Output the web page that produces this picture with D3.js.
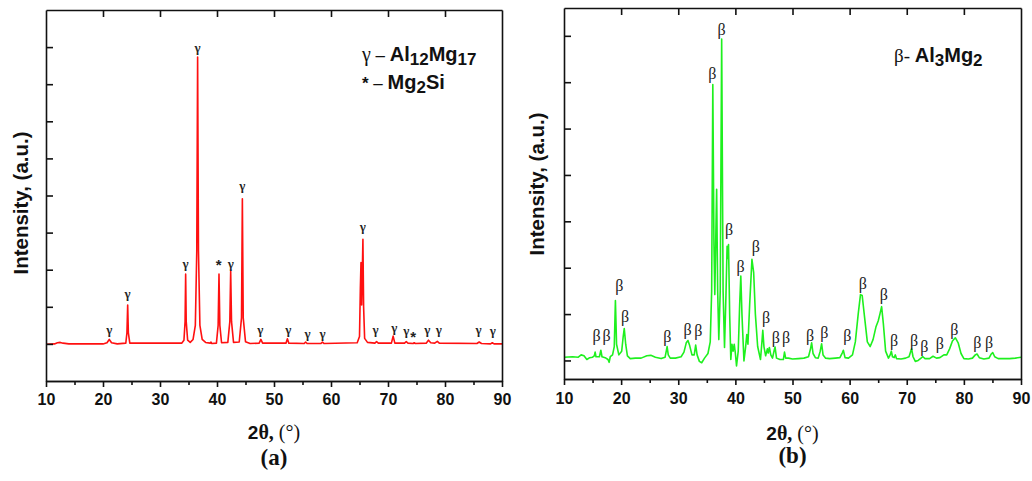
<!DOCTYPE html>
<html>
<head>
<meta charset="utf-8">
<script src="https://cdn.jsdelivr.net/npm/d3@7"></script>
<style>
  body { margin: 0; background: #fff; }
  svg { display: block; }
</style>
</head>
<body>
<svg id="chart" width="1032" height="481"></svg>
<script>
// (a) Al12Mg17 pattern, [2theta, intensity a.u.]
var patternA = [
  [10,0.99],[11.5,1.0],[12.0,1.03],[12.5,1.04],[13.0,1.02],[14,1.0],[20.0,1.0],[20.7,1.03],[21.1,1.12],[21.5,1.03],
  [22.5,1.0],[24.0,1.02],[24.2,1.3],[24.33,2.05],[24.45,1.3],[24.7,1.02],[33.8,1.02],[34.2,1.1],[34.4,1.6],[34.5,2.88],
  [34.6,1.6],[34.85,1.1],[35.3,1.04],[35.8,1.12],[36.2,1.5],[36.45,3.5],[36.6,8.73],[36.75,3.5],[37.0,1.5],[37.4,1.12],
  [38.0,1.04],[38.8,1.02],[38.95,1.05],[39.1,1.01],[39.9,1.02],[40.2,1.5],[40.35,2.88],[40.5,1.5],[40.8,1.03],[41.9,1.04],
  [42.25,1.6],[42.4,2.96],[42.55,1.6],[42.9,1.04],[43.9,1.05],[44.3,1.7],[44.45,4.91],[44.6,1.7],[45.0,1.06],[45.8,1.01],
  [47.4,1.02],[47.7,1.12],[48.0,1.02],[52.1,1.02],[52.35,1.14],[52.6,1.02],[55.3,1.01],[55.55,1.05],[55.8,1.01],[58.2,1.01],
  [58.5,1.05],[58.8,1.01],[64.6,1.03],[65.0,1.2],[65.15,2.5],[65.26,3.19],[65.38,2.05],[65.5,3.0],[65.6,3.82],[65.72,2.0],
  [65.9,1.15],[66.4,1.04],[67.7,1.02],[68.0,1.06],[68.3,1.02],[70.6,1.02],[70.9,1.21],[71.2,1.02],[72.9,1.02],[73.2,1.06],
  [73.5,1.02],[74.4,1.01],[74.6,1.03],[74.8,1.01],[76.7,1.02],[77.1,1.1],[77.5,1.03],[78.2,1.02],[78.65,1.07],[79.0,1.02],
  [85.6,1.01],[86.0,1.05],[86.4,1.01],[88.0,1.0],[88.3,1.03],[88.6,1.0],[90,1.0]
];

// (b) Al3Mg2 pattern, [2theta, intensity a.u.]
var patternB = [
  [10,0.07],[11.5,0.08],[12.5,0.07],[13.0,0.12],[13.5,0.10],[14.0,0.02],[14.5,0.06],[15.0,0.07],[15.3,0.10],[15.45,0.18],
  [15.6,0.08],[16.2,0.08],[16.45,0.22],[16.65,0.08],[17.2,0.06],[17.7,0.02],[17.9,-0.04],[18.1,0.08],[18.5,0.12],[18.8,0.3],
  [19.0,1.29],[19.2,0.35],[19.6,0.12],[20.1,0.2],[20.35,0.5],[20.55,0.69],[20.8,0.35],[21.1,0.1],[21.6,0.04],[22.5,0.05],
  [23.5,0.05],[24.5,0.1],[25.2,0.11],[26,0.07],[27,0.04],[27.7,0.07],[27.9,0.2],[28.05,0.30],[28.25,0.12],[28.6,0.05],
  [29.5,0.05],[30.5,0.08],[31.0,0.18],[31.4,0.38],[31.7,0.43],[32.0,0.32],[32.4,0.12],[32.8,0.12],[33.05,0.33],[33.3,0.12],
  [33.7,-0.02],[34.1,-0.05],[34.6,0.05],[35.2,0.15],[35.6,0.4],[35.85,1.5],[36.05,5.95],[36.25,2.5],[36.4,1.42],[36.55,2.5],
  [36.72,3.69],[36.9,1.5],[37.1,0.45],[37.35,1.5],[37.6,6.93],[37.85,1.5],[38.1,0.28],[38.35,1.4],[38.55,2.46],[38.65,2.2],
  [38.8,2.5],[39.0,1.0],[39.2,0.02],[39.4,0.35],[39.6,0.2],[39.8,0.35],[40.0,0.15],[40.2,-0.12],[40.5,0.2],[40.75,1.2],
  [40.95,1.82],[41.15,1.0],[41.5,-0.01],[41.8,0.3],[42.0,0.56],[42.2,0.35],[42.5,1.2],[42.9,2.18],[43.2,1.9],[43.5,1.0],
  [43.9,0.3],[44.4,0.02],[44.65,0.4],[44.8,0.65],[45.0,0.3],[45.3,0.1],[45.6,0.25],[45.75,0.16],[45.95,0.28],[46.2,0.12],
  [46.5,0.05],[46.8,0.22],[46.95,0.29],[47.2,0.05],[47.8,0.02],[48.4,0.02],[48.6,0.18],[48.8,0.05],[49.3,0.05],[50,0.03],
  [51,0.04],[52,0.05],[52.8,0.08],[53.15,0.25],[53.35,0.38],[53.6,0.15],[54.0,0.06],[54.5,0.05],[54.85,0.2],[55.1,0.36],
  [55.35,0.12],[55.8,0.05],[56.5,0.04],[57.5,0.05],[58.3,0.06],[58.7,0.16],[58.9,0.22],[59.2,0.06],[59.8,0.05],[60.5,0.12],
  [61.0,0.4],[61.5,1.0],[61.9,1.42],[62.2,1.4],[62.6,0.95],[63.1,0.4],[63.6,0.3],[64.1,0.45],[64.6,0.72],[65.0,0.85],
  [65.3,1.0],[65.6,1.16],[65.9,0.8],[66.3,0.2],[66.8,0.05],[67.1,0.12],[67.3,0.2],[67.5,0.08],[67.8,0.06],[68.0,0.12],
  [68.2,0.04],[69,0.03],[69.8,0.05],[70.4,0.08],[70.7,0.2],[70.85,0.25],[71.1,0.08],[71.5,-0.02],[72.0,0.0],[72.5,0.05],
  [72.8,0.08],[73.2,0.04],[74.0,0.04],[74.6,0.09],[75.2,0.05],[75.8,0.06],[76.5,0.12],[77.0,0.12],[77.5,0.25],[78.0,0.42],
  [78.5,0.49],[79.0,0.38],[79.5,0.15],[80.0,0.04],[80.8,0.03],[81.5,0.05],[82.0,0.12],[82.3,0.14],[82.7,0.06],[83.5,0.03],
  [84.4,0.05],[84.8,0.14],[85.05,0.17],[85.4,0.08],[86,0.04],[87,0.04],[88,0.04],[89,0.05],[90,0.07]
];

// peak markers: [2theta, intensity at label centre, symbol]
var labelsA = [
  [21.1,1.40,'γ'],[24.3,2.37,'γ'],[34.5,3.18,'γ'],[36.6,9.00,'γ'],[40.3,3.13,'*'],[42.4,3.18,'γ'],[44.45,5.28,'γ'],
  [47.6,1.40,'γ'],[52.5,1.40,'γ'],[55.9,1.29,'γ'],[58.5,1.29,'γ'],[65.6,4.16,'γ'],[67.8,1.40,'γ'],[71.1,1.43,'γ'],
  [73.2,1.37,'γ'],[74.4,1.19,'*'],[76.9,1.40,'γ'],[78.9,1.40,'γ'],[85.9,1.40,'γ'],[88.4,1.37,'γ']
];
var labelsB = [
  [15.7,0.54,'β'],[17.45,0.54,'β'],[19.68,1.62,'β'],[20.68,0.94,'β'],[28.08,0.51,'β'],[31.65,0.67,'β'],[33.5,0.65,'β'],
  [35.96,6.19,'β'],[37.6,7.13,'β'],[38.9,2.82,'β'],[40.93,2.03,'β'],[43.6,2.46,'β'],[45.36,0.92,'β'],[47.1,0.49,'β'],
  [48.86,0.49,'β'],[53.06,0.54,'β'],[55.57,0.6,'β'],[59.6,0.54,'β'],[62.3,1.67,'β'],[66.0,1.42,'β'],[67.8,0.43,'β'],
  [71.3,0.43,'β'],[73.07,0.31,'β'],[75.8,0.36,'β'],[78.33,0.68,'β'],[82.35,0.38,'β'],[84.4,0.38,'β']
];

var xTicks = [10,20,30,40,50,60,70,80,90];
var xMinor = [15,25,35,45,55,65,75,85];
var yTicksA = [1,2,3,4,5,6,7,8,9];
var yTicksB = [0,1,2,3,4,5,6,7];

var SANS = 'Arial, "Liberation Sans", Helvetica, sans-serif';
var SERIF = '"Times New Roman", "Liberation Serif", Times, serif';

var svg = d3.select('#chart');

function drawPanel(o) {
  var x = d3.scaleLinear().domain([10, 90]).range([o.left, o.right]);
  var y = d3.scaleLinear().domain(o.yDomain).range([o.bottom, o.top]);
  var g = svg.append('g');

  // curve
  var line = d3.line().x(function(d) { return x(d[0]); }).y(function(d) { return y(d[1]); });
  g.append('path').datum(o.data)
    .attr('d', line)
    .attr('fill', 'none')
    .attr('stroke', o.color)
    .attr('stroke-width', 1.6)
    .attr('stroke-linejoin', 'round');

  // axes
  var bottom = g.append('g').attr('transform', 'translate(0,' + o.bottom + ')')
    .call(d3.axisBottom(x).tickValues(xTicks).tickSize(6).tickSizeOuter(0).tickPadding(o.tickPad));
  bottom.selectAll('text').attr('font-family', SANS).attr('font-weight', 'bold')
    .attr('font-size', 16).attr('fill', '#111');
  g.append('g').attr('transform', 'translate(0,' + o.bottom + ')')
    .call(d3.axisBottom(x).tickValues(xMinor).tickSize(4).tickSizeOuter(0).tickFormat(''));
  g.append('g').attr('transform', 'translate(0,' + o.top + ')')
    .call(d3.axisTop(x).tickValues([20,30,40,50,60,70,80]).tickSize(-7).tickSizeOuter(0).tickFormat(''));
  g.append('g').attr('transform', 'translate(' + o.left + ',0)')
    .call(d3.axisLeft(y).tickValues(o.yTicks).tickSize(-7).tickSizeOuter(0).tickFormat(''));
  g.append('g').attr('transform', 'translate(' + o.right + ',0)')
    .call(d3.axisRight(y).tickValues([]).tickSize(0).tickSizeOuter(0));
  g.selectAll('.domain, .tick line').attr('stroke', '#111').attr('stroke-width', 1.6);

  // peak markers
  g.selectAll('text.mark').data(o.labels).enter().append('text')
    .attr('class', 'mark')
    .attr('x', function(d) { return x(d[0]); })
    .attr('y', function(d) { return y(d[1]); })
    .attr('dy', '0.35em')
    .attr('text-anchor', 'middle')
    .attr('font-family', function(d) { return d[2] === '*' ? SANS : SERIF; })
    .attr('font-weight', o.markBold ? 'bold' : 'normal')
    .attr('font-size', function(d) { return d[2] === '*' ? 15 : o.markSize; })
    .attr('fill', '#222')
    .text(function(d) { return d[2]; });

  // axis titles
  var cx = (o.left + o.right) / 2;
  var xt = svg.append('text').attr('x', cx).attr('y', o.xTitleY).attr('text-anchor', 'middle')
    .attr('fill', '#111');
  xt.append('tspan').attr('font-family', SANS).attr('font-weight', 'bold').attr('font-size', 19).text('2');
  xt.append('tspan').attr('font-family', SERIF).attr('font-weight', 'bold').attr('font-size', 20).text('θ, ');
  xt.append('tspan').attr('font-family', SERIF).attr('font-size', 20).text('(°)');

  svg.append('text')
    .attr('transform', 'translate(' + o.yTitleX + ',' + o.yTitleY + ') rotate(-90)')
    .attr('dy', '0.35em')
    .attr('text-anchor', 'middle')
    .attr('font-family', SANS).attr('font-weight', 'bold').attr('font-size', 20.5)
    .attr('fill', '#111')
    .text('Intensity, (a.u.)');

  svg.append('text').attr('x', cx).attr('y', o.captionY).attr('text-anchor', 'middle')
    .attr('font-family', SERIF).attr('font-weight', 'bold').attr('font-size', 23)
    .attr('fill', '#111').text(o.caption);
}

drawPanel({
  left: 46, right: 502, top: 10, bottom: 381, yDomain: [0, 10], yTicks: yTicksA,
  data: patternA, color: '#ff1010', labels: labelsA, markSize: 13, markBold: true,
  tickPad: 7, xTitleY: 439, yTitleX: 21, yTitleY: 203, caption: '(a)', captionY: 465
});
drawPanel({
  left: 564, right: 1021, top: 8, bottom: 379, yDomain: [-0.4, 7.6], yTicks: yTicksB,
  data: patternB, color: '#1ef01e', labels: labelsB, markSize: 16, markBold: false,
  tickPad: 8, xTitleY: 440, yTitleX: 537, yTitleY: 184, caption: '(b)', captionY: 463
});

// legends
function legendLine(xp, yp, parts) {
  var t = svg.append('text').attr('x', xp).attr('y', yp).attr('fill', '#111');
  parts.forEach(function(p) {
    t.append('tspan')
      .attr('font-family', p.serif ? SERIF : SANS)
      .attr('font-weight', p.bold ? 'bold' : 'normal')
      .attr('font-size', p.size)
      .attr('dy', p.dy || 0)
      .text(p.t);
  });
}
legendLine(362, 61, [
  {t: 'γ', serif: true, size: 20},
  {t: ' – ', size: 17},
  {t: 'Al', bold: true, size: 20},
  {t: '12', bold: true, size: 17, dy: 4},
  {t: 'Mg', bold: true, size: 20, dy: -4},
  {t: '17', bold: true, size: 17, dy: 4}
]);
legendLine(362, 89, [
  {t: '*', bold: true, size: 17},
  {t: ' – ', size: 17},
  {t: 'Mg', bold: true, size: 20},
  {t: '2', bold: true, size: 17, dy: 4},
  {t: 'Si', bold: true, size: 20, dy: -4}
]);
legendLine(894, 62, [
  {t: 'β- ', serif: true, size: 19},
  {t: 'Al', bold: true, size: 20},
  {t: '3', bold: true, size: 17, dy: 4},
  {t: 'Mg', bold: true, size: 20, dy: -4},
  {t: '2', bold: true, size: 17, dy: 4}
]);
</script>
</body>
</html>
